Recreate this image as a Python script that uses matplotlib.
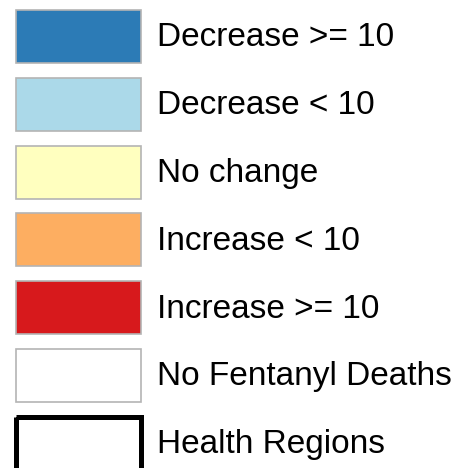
import matplotlib.pyplot as plt
from matplotlib.patches import Rectangle

labels = ["Decrease >= 10", "Decrease < 10", "No change", "Increase < 10",
          "Increase >= 10", "No Fentanyl Deaths", "Health Regions"]
fills = ["#2c7bb6", "#abd9e9", "#ffffbf", "#fdae61", "#d7191c", "#ffffff", "none"]
edges = ["#b4b4b4"] * 6 + ["#000000"]
widths = [1.2] * 6 + [3.6]

fig = plt.figure(figsize=(4.61, 4.68), dpi=100)
ax = fig.add_axes([0, 0, 1, 1])
ax.set_xlim(0, 461)
ax.set_ylim(468, 0)
ax.axis("off")

step = 67.8
for i, lab in enumerate(labels):
    top = 10 + i * step
    ax.add_patch(Rectangle((16, top), 125, 53, facecolor=fills[i],
                           edgecolor=edges[i], linewidth=widths[i]))
    ax.text(157, top + 28, lab, fontsize=24, family="Liberation Sans",
            va="center", ha="left", color="black")

fig.savefig("out.png", dpi=100)
